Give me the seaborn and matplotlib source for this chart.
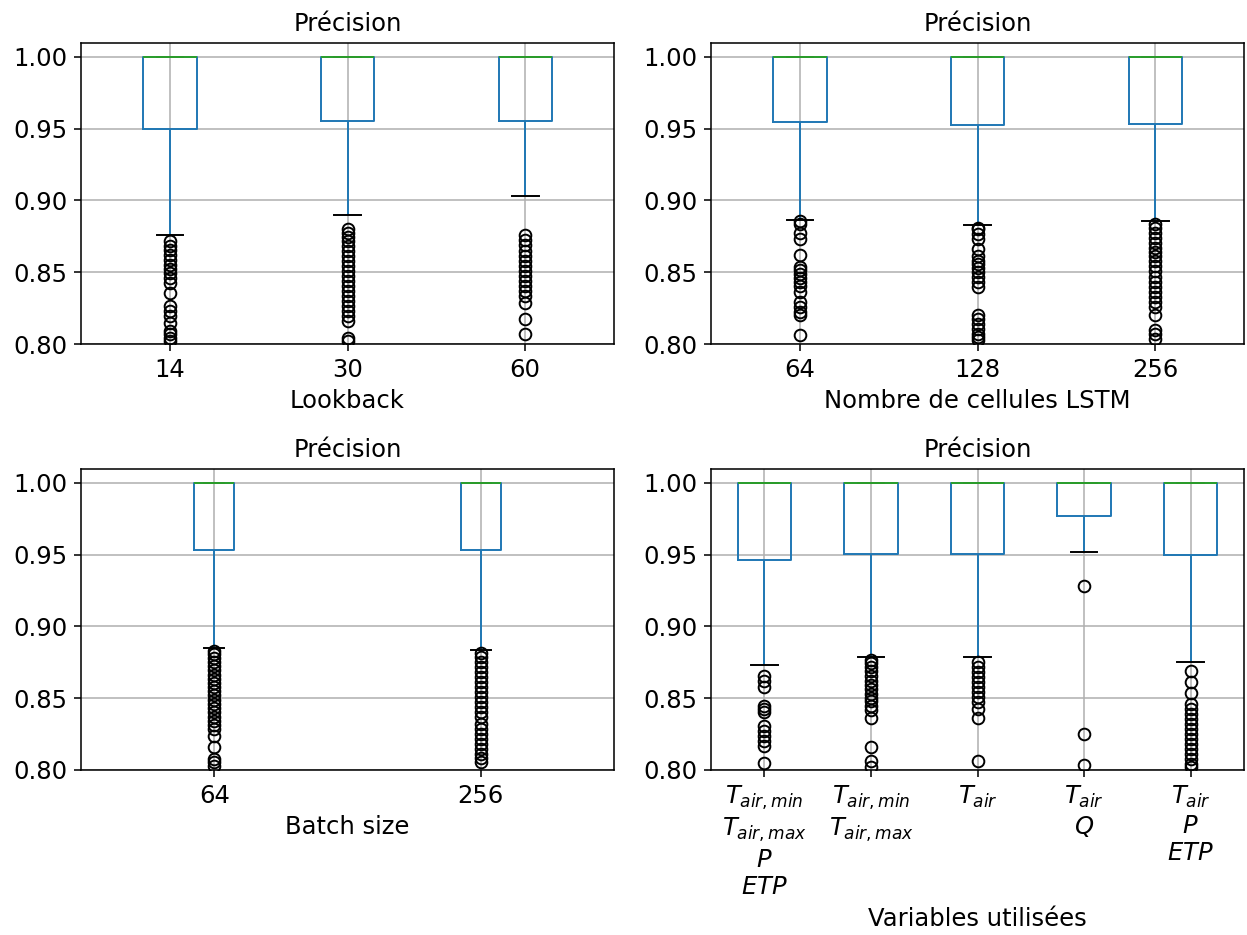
import numpy as np
import pandas as pd
import matplotlib
matplotlib.use("Agg")
import matplotlib.pyplot as plt
import seaborn as sns

plt.rcParams["font.family"] = ["DejaVu Sans"]
plt.rcParams["font.size"] = 12.5
plt.rcParams["mathtext.default"] = "it"

# ---------------- data ----------------
# Lookback
lookback_cats = ["14", "30", "60"]
lookback_q1 = [0.9500, 0.9553, 0.9553]
lookback_whislo = [0.8757, 0.8900, 0.9028]
lookback_out_14 = [0.8715, 0.8685, 0.8653, 0.8623, 0.8588, 0.8553, 0.8523, 0.8495,
                   0.8461, 0.8426, 0.8356, 0.8264, 0.8229, 0.8194, 0.8148, 0.8090,
                   0.8067, 0.8044, 0.8021]
lookback_out_30 = [0.8801, 0.8773, 0.8745, 0.8715, 0.8681, 0.8646, 0.8611, 0.8576,
                   0.8542, 0.8507, 0.8472, 0.8438, 0.8403, 0.8368, 0.8333, 0.8299,
                   0.8264, 0.8229, 0.8194, 0.8160, 0.8044, 0.8021]
lookback_out_60 = [0.8762, 0.8727, 0.8692, 0.8646, 0.8611, 0.8576, 0.8542, 0.8507,
                   0.8472, 0.8438, 0.8403, 0.8368, 0.8333, 0.8287, 0.8176, 0.8067]

# Nombre de cellules LSTM
lstm_cats = ["64", "128", "256"]
lstm_q1 = [0.9545, 0.9524, 0.9536]
lstm_whislo = [0.8866, 0.8831, 0.8857]
lstm_out_64 = [0.8857, 0.8834, 0.8771, 0.8734, 0.8619, 0.8540, 0.8517, 0.8487,
               0.8457, 0.8430, 0.8402, 0.8360, 0.8291, 0.8256, 0.8222, 0.8199, 0.8060]
lstm_out_128 = [0.8805, 0.8799, 0.8764, 0.8730, 0.8661, 0.8614, 0.8580, 0.8557,
                0.8533, 0.8499, 0.8464, 0.8430, 0.8395, 0.8199, 0.8176, 0.8141,
                0.8106, 0.8072, 0.8048, 0.8025]
lstm_out_256 = [0.8835, 0.8811, 0.8776, 0.8741, 0.8707, 0.8672, 0.8642, 0.8614,
                0.8580, 0.8545, 0.8510, 0.8464, 0.8430, 0.8395, 0.8360, 0.8326,
                0.8291, 0.8256, 0.8199, 0.8095, 0.8072, 0.8037]

# Batch size
batch_cats = ["64", "256"]
batch_q1 = [0.9535, 0.9530]
batch_whislo = [0.8851, 0.8833]
batch_out_64 = [0.8830, 0.8809, 0.8781, 0.8751, 0.8721, 0.8693, 0.8665, 0.8635,
                0.8605, 0.8577, 0.8549, 0.8519, 0.8488, 0.8460, 0.8433, 0.8402,
                0.8372, 0.8344, 0.8316, 0.8286, 0.8240, 0.8158, 0.8077, 0.8053, 0.8030]
batch_out_256 = [0.8815, 0.8786, 0.8751, 0.8716, 0.8681, 0.8647, 0.8612, 0.8577,
                 0.8542, 0.8507, 0.8472, 0.8437, 0.8402, 0.8367, 0.8321, 0.8286,
                 0.8251, 0.8216, 0.8181, 0.8147, 0.8112, 0.8081, 0.8053]

# Variables utilisées
var_cats = [
    "$T_{air,min}$\n$T_{air,max}$\n$P$\n$ETP$",
    "$T_{air,min}$\n$T_{air,max}$",
    "$T_{air}$",
    "$T_{air}$\n$Q$",
    "$T_{air}$\n$P$\n$ETP$",
]
var_q1 = [0.9465, 0.9507, 0.9507, 0.9767, 0.9495]
var_whislo = [0.8728, 0.8788, 0.8788, 0.9516, 0.8753]
var_out_1 = [0.8655, 0.8623, 0.8581, 0.8449, 0.8426, 0.8402, 0.8309, 0.8274,
             0.8240, 0.8205, 0.8170, 0.8047]
var_out_2 = [0.8765, 0.8744, 0.8716, 0.8688, 0.8658, 0.8623, 0.8595, 0.8565,
             0.8530, 0.8502, 0.8479, 0.8449, 0.8419, 0.8363, 0.8163, 0.8065, 0.8019]
var_out_3 = [0.8751, 0.8716, 0.8681, 0.8647, 0.8612, 0.8577, 0.8542, 0.8507,
             0.8472, 0.8426, 0.8363, 0.8065]
var_out_4 = [0.9281, 0.8251, 0.8037]
var_out_5 = [0.8688, 0.8612, 0.8535, 0.8460, 0.8426, 0.8391, 0.8356, 0.8321,
             0.8286, 0.8251, 0.8216, 0.8181, 0.8147, 0.8112, 0.8077, 0.8042, 0.8019]

MEDIAN = 1.0  # median, Q3 and maximum of every group


def group_values(outliers, whislo, q1):
    """Observations of one group: outliers, lowest whisker point, first
    quartile block, then the scores equal to 1.0 (median = Q3 = max)."""
    k = len(outliers)
    return list(outliers) + [whislo] + [q1] * (k + 3) + [MEDIAN] * (2 * k + 5)


def frame(cats, q1s, whislos, outs):
    rows = []
    for c, q, w, o in zip(cats, q1s, whislos, outs):
        for v in group_values(o, w, q):
            rows.append((c, v))
    return pd.DataFrame(rows, columns=["cat", "value"])


panels = [
    (frame(lookback_cats, lookback_q1, lookback_whislo,
           [lookback_out_14, lookback_out_30, lookback_out_60]),
     lookback_cats, "Lookback", 0.3),
    (frame(lstm_cats, lstm_q1, lstm_whislo,
           [lstm_out_64, lstm_out_128, lstm_out_256]),
     lstm_cats, "Nombre de cellules LSTM", 0.3),
    (frame(batch_cats, batch_q1, batch_whislo, [batch_out_64, batch_out_256]),
     batch_cats, "Batch size", 0.15),
    (frame(var_cats, var_q1, var_whislo,
           [var_out_1, var_out_2, var_out_3, var_out_4, var_out_5]),
     var_cats, "Variables utilisées", 0.5),
]

fig, axes = plt.subplots(2, 2, figsize=(1247 / 140, 935 / 140), dpi=140)
fig.subplots_adjust(left=0.065, right=0.9976, top=0.954, bottom=0.1765,
                    wspace=0.182, hspace=0.415)

for ax, (df, cats, xlabel, w) in zip(axes.flat, panels):
    sns.boxplot(
        data=df, x="cat", y="value", order=cats, ax=ax,
        width=w, fill=False, color="#1f77b4", linewidth=1.0, whis=1.5,
        boxprops=dict(color="#1f77b4", linewidth=1.0),
        whiskerprops=dict(color="#1f77b4", linewidth=1.0),
        capprops=dict(color="black", linewidth=1.0),
        medianprops=dict(color="#2ca02c", linewidth=1.0, zorder=2.2),
        flierprops=dict(marker="o", markerfacecolor="none",
                        markeredgecolor="black", markersize=6,
                        markeredgewidth=1.0),
    )
    ax.set_ylim(0.80, 1.0097)
    ax.set_yticks([0.80, 0.85, 0.90, 0.95, 1.00])
    ax.set_yticklabels(["0.80", "0.85", "0.90", "0.95", "1.00"])
    ax.set_axisbelow("line")
    ax.grid(True, color="#b0b0b0", linewidth=0.8, zorder=1)
    ax.set_title("Précision", fontsize=12.5)
    ax.set_xlabel(xlabel, fontsize=12.5)
    ax.set_ylabel("")
    ax.tick_params(labelsize=12.5)
    for s in ax.spines.values():
        s.set_visible(True)
        s.set_color("black")
        s.set_linewidth(0.8)

fig.savefig("out.png", dpi=140)
